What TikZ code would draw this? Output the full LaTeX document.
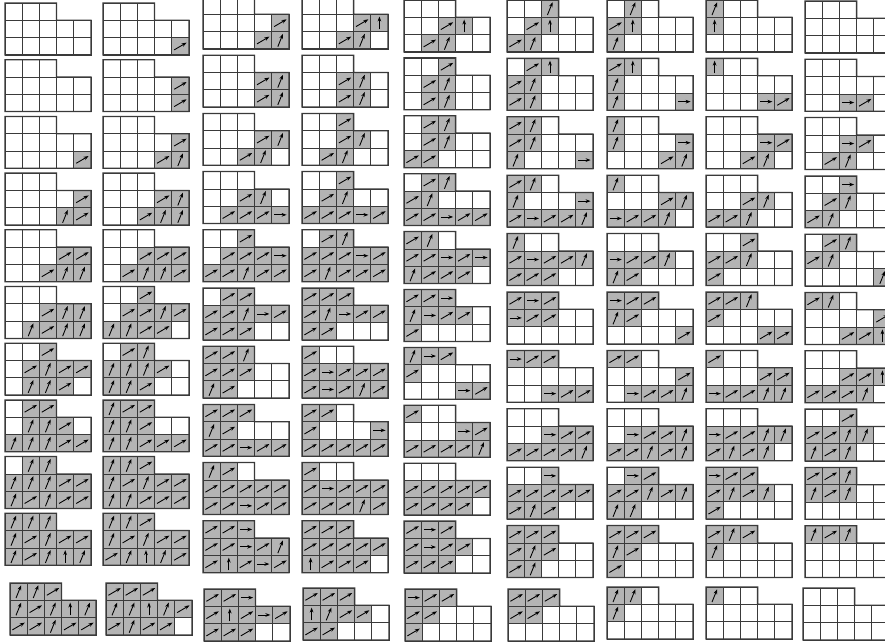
\documentclass[tikz,border=0pt]{standalone}
\usetikzlibrary{arrows.meta}
\definecolor{cshade}{HTML}{B4B4B4}
\definecolor{cline}{HTML}{3A3A3A}
\def\cw{17.2}
\def\ch{17.3}
\tikzset{
  sq/.style={draw=cline, line width=0.6pt},
  rim/.style={draw=cline, line width=1.1pt},
  dir/.style={-{Stealth[length=1.5mm,width=1.1mm]}, line width=0.75pt, draw=black},
  pics/cell-o/.style={code={\draw[sq] (0,0) rectangle (\cw,\ch);}},
  pics/cell-a/.style={code={\draw[sq,fill=cshade] (0,0) rectangle (\cw,\ch);
      \draw[dir] ({0.14*\cw},{0.29*\ch}) -- ({0.86*\cw},{0.71*\ch});}},
  pics/cell-s/.style={code={\draw[sq,fill=cshade] (0,0) rectangle (\cw,\ch);
      \draw[dir] ({0.35*\cw},{0.13*\ch}) -- ({0.65*\cw},{0.87*\ch});}},
  pics/cell-h/.style={code={\draw[sq,fill=cshade] (0,0) rectangle (\cw,\ch);
      \draw[dir] ({0.15*\cw},{0.5*\ch}) -- ({0.86*\cw},{0.5*\ch});}},
  pics/cell-v/.style={code={\draw[sq,fill=cshade] (0,0) rectangle (\cw,\ch);
      \draw[dir] ({0.5*\cw},{0.13*\ch}) -- ({0.5*\cw},{0.87*\ch});}}
}
\def\colx{{5,103,203,302,404,507,607,706,805}}
\def\lastx{{10,106,204,303,405,508,607,706,803}}
\def\coltop{{3,3,-3,-3,0,0,0,0,1}}
\def\colstep{{56.7,56.7,58.2,58.2,57.9,58.4,58.4,58.4,58.3}}
\def\lasttop{{583,583,589,588,589,589,587,587,588}}
% one row of cells, read letter by letter
\newcommand\cellrow[1]{\ifx#1\relax\else
  \pic at (\cx,\cy) {cell-#1};%
  \pgfmathsetmacro\cx{\cx+\cw}%
  \expandafter\cellrow\fi}
% column, row, then the three rows of the diagram
\newcommand\ydiag[5]{%
  \pgfmathsetmacro\tx{#2==11 ? \lastx[#1-1] : \colx[#1-1]}%
  \pgfmathsetmacro\tp{#2==11 ? \lasttop[#1-1] : \coltop[#1-1]+(#2-1)*\colstep[#1-1]}%
  \pgfmathsetmacro\ty{643-\tp-\ch}%
  \let\cx\tx \pgfmathsetmacro\cy{\ty}\cellrow#3\relax
  \let\cx\tx \pgfmathsetmacro\cy{\ty-\ch}\cellrow#4\relax
  \let\cx\tx \pgfmathsetmacro\cy{\ty-2*\ch}\cellrow#5\relax
  \draw[rim] (\tx,\ty+\ch) -- ++({3*\cw},0) -- ++(0,-\ch) -- ++({2*\cw},0)
    -- ++(0,{-2*\ch}) -- ++({-5*\cw},0) -- cycle;}
\begin{document}
\begin{tikzpicture}[x=0.3mm,y=0.3mm]
\fill[white] (0,0) rectangle (885,643);
\useasboundingbox (0,0) rectangle (885,643);
\clip (0,0) rectangle (885,643);
% row 1
\ydiag{1}{1}{ooo}{ooooo}{ooooo}
\ydiag{2}{1}{ooo}{ooooo}{ooooa}
\ydiag{3}{1}{ooo}{ooooa}{oooas}
\ydiag{4}{1}{ooo}{oooav}{ooaso}
\ydiag{5}{1}{ooo}{ooavo}{oasoo}
\ydiag{6}{1}{oos}{oavoo}{asooo}
\ydiag{7}{1}{oso}{avooo}{soooo}
\ydiag{8}{1}{soo}{voooo}{ooooo}
\ydiag{9}{1}{ooo}{ooooo}{ooooo}
% row 2
\ydiag{1}{2}{ooo}{ooooo}{ooooo}
\ydiag{2}{2}{ooo}{ooooa}{ooooa}
\ydiag{3}{2}{ooo}{oooas}{oooas}
\ydiag{4}{2}{ooo}{ooaso}{ooaso}
\ydiag{5}{2}{ooa}{oasoo}{oasoo}
\ydiag{6}{2}{oav}{asooo}{asooo}
\ydiag{7}{2}{avo}{soooo}{soooh}
\ydiag{8}{2}{voo}{ooooo}{oooha}
\ydiag{9}{2}{ooo}{ooooo}{oohao}
% row 3
\ydiag{1}{3}{ooo}{ooooo}{ooooa}
\ydiag{2}{3}{ooo}{ooooa}{oooas}
\ydiag{3}{3}{ooo}{oooas}{ooaso}
\ydiag{4}{3}{ooa}{ooaso}{oasoo}
\ydiag{5}{3}{oas}{oasoo}{aaooo}
\ydiag{6}{3}{aso}{asooo}{soooh}
\ydiag{7}{3}{soo}{soooh}{oooas}
\ydiag{8}{3}{ooo}{oooha}{ooaso}
\ydiag{9}{3}{ooo}{oohao}{oasoo}
% row 4
\ydiag{1}{4}{ooo}{ooooa}{ooosa}
\ydiag{2}{4}{ooo}{oooas}{ooass}
\ydiag{3}{4}{ooo}{ooaso}{oaaah}
\ydiag{4}{4}{ooa}{oasoo}{aaaha}
\ydiag{5}{4}{oas}{asooo}{aahaa}
\ydiag{6}{4}{aso}{soooh}{ahaas}
\ydiag{7}{4}{soo}{oooas}{haaso}
\ydiag{8}{4}{ooo}{ooaso}{aasoo}
\ydiag{9}{4}{ooh}{oasoo}{asooo}
% row 5
\ydiag{1}{5}{ooo}{oooaa}{ooass}
\ydiag{2}{5}{ooo}{ooaaa}{oassa}
\ydiag{3}{5}{ooa}{oaaah}{aasaa}
\ydiag{4}{5}{oas}{aaaha}{asaaa}
\ydiag{5}{5}{aso}{aahah}{saaao}
\ydiag{6}{5}{soo}{ahaas}{aaaoo}
\ydiag{7}{5}{ooo}{haaso}{saooo}
\ydiag{8}{5}{ooa}{aasoo}{aoooo}
\ydiag{9}{5}{oas}{asooo}{oooos}
% row 6
\ydiag{1}{6}{ooo}{ooass}{osass}
\ydiag{2}{6}{ooa}{oaasa}{ssaao}
\ydiag{3}{6}{oaa}{aasha}{aaaoo}
\ydiag{4}{6}{aaa}{ashaa}{aaooo}
\ydiag{5}{6}{aah}{shaao}{aoooo}
\ydiag{6}{6}{aha}{haaoo}{ooooo}
\ydiag{7}{6}{haa}{saooo}{ooooa}
\ydiag{8}{6}{aas}{aoooo}{oooaa}
\ydiag{9}{6}{aso}{ooooa}{ooaav}
% row 7
\ydiag{1}{7}{ooa}{oasaa}{ossao}
\ydiag{2}{7}{oas}{sssao}{ssaoo}
\ydiag{3}{7}{aas}{aaaoo}{saooo}
\ydiag{4}{7}{aoo}{ahaaa}{ahasa}
\ydiag{5}{7}{sha}{aoooo}{oooha}
\ydiag{6}{7}{haa}{ooooo}{oohaa}
\ydiag{7}{7}{aao}{ooooa}{ohaas}
\ydiag{8}{7}{aoo}{oooaa}{haass}
\ydiag{9}{7}{ooo}{ooaav}{aaaso}
% row 8
\ydiag{1}{8}{oaa}{ossao}{sssaa}
\ydiag{2}{8}{saa}{ssaoo}{ssaaa}
\ydiag{3}{8}{aaa}{saooo}{aahaa}
\ydiag{4}{8}{aao}{aoooh}{aaaaa}
\ydiag{5}{8}{aoo}{oooha}{aaaas}
\ydiag{6}{8}{ooo}{oohaa}{aaaas}
\ydiag{7}{8}{ooo}{ohaas}{aasas}
\ydiag{8}{8}{ooo}{haass}{asaso}
\ydiag{9}{8}{ooa}{aasso}{sasoo}
% row 9
\ydiag{1}{9}{oss}{sssaa}{sasaa}
\ydiag{2}{9}{ssa}{sasaa}{ssaaa}
\ydiag{3}{9}{sao}{aaaaa}{aahaa}
\ydiag{4}{9}{aoo}{ahaaa}{aaasa}
\ydiag{5}{9}{ooo}{aaaaa}{aaaao}
\ydiag{6}{9}{ooh}{aaaaa}{asaoo}
\ydiag{7}{9}{oha}{aasas}{ssooo}
\ydiag{8}{9}{haa}{asaso}{aoooo}
\ydiag{9}{9}{aas}{sasoo}{ooooo}
% row 10
\ydiag{1}{10}{sss}{sasaa}{sasvs}
\ydiag{2}{10}{ssa}{sasaa}{asvsa}
\ydiag{3}{10}{aah}{aahas}{avaha}
\ydiag{4}{10}{aaa}{aaaaa}{vaaao}
\ydiag{5}{10}{aha}{ahaao}{aaaoo}
\ydiag{6}{10}{aaa}{asaoo}{asooo}
\ydiag{7}{10}{aaa}{saooo}{aoooo}
\ydiag{8}{10}{asa}{soooo}{ooooo}
\ydiag{9}{10}{sas}{ooooo}{ooooo}
% row 11
\ydiag{1}{11}{ssa}{sasvs}{aasaa}
\ydiag{2}{11}{aaa}{ssvsa}{asaao}
\ydiag{3}{11}{aah}{avaha}{aaaoo}
\ydiag{4}{11}{aaa}{vsaao}{aaooo}
\ydiag{5}{11}{haa}{aaooo}{aoooo}
\ydiag{6}{11}{aaa}{aaooo}{ooooo}
\ydiag{7}{11}{sso}{soooo}{ooooo}
\ydiag{8}{11}{soo}{ooooo}{ooooo}
\ydiag{9}{11}{ooo}{ooooo}{ooooo}
\end{tikzpicture}
\end{document}
